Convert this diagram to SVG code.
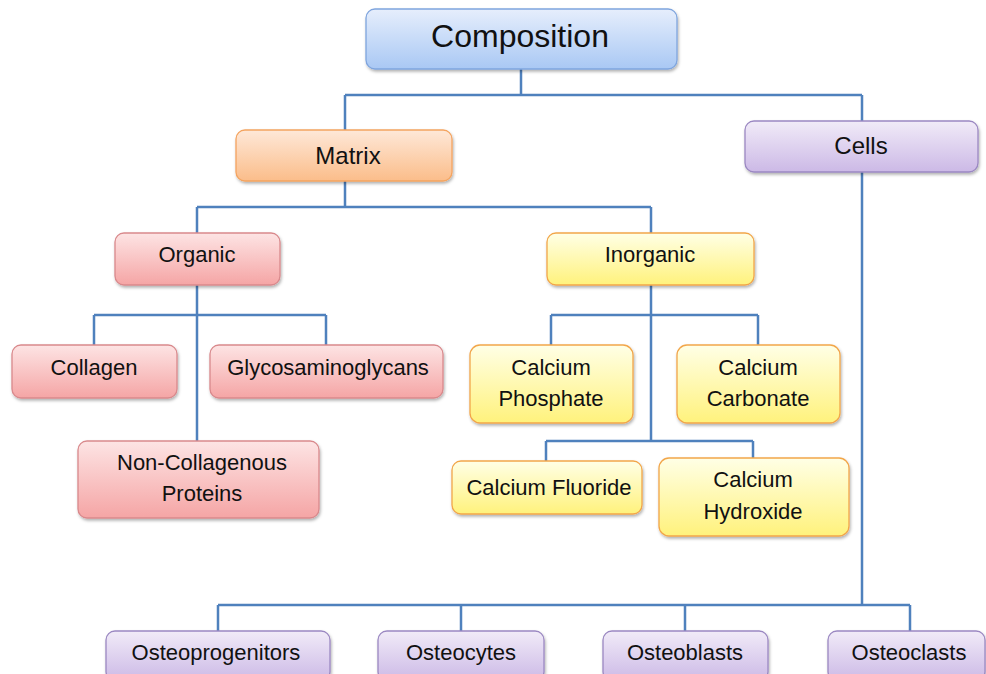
<svg xmlns="http://www.w3.org/2000/svg" width="986" height="674" viewBox="0 0 986 674">
<defs>
<linearGradient id="gBlue" x1="0" y1="0" x2="0" y2="1"><stop offset="0" stop-color="#e6eefc"/><stop offset="1" stop-color="#a9c8f4"/></linearGradient>
<linearGradient id="gOrange" x1="0" y1="0" x2="0" y2="1"><stop offset="0" stop-color="#fee8d8"/><stop offset="1" stop-color="#fbbd8a"/></linearGradient>
<linearGradient id="gRed" x1="0" y1="0" x2="0" y2="1"><stop offset="0" stop-color="#fde4e4"/><stop offset="1" stop-color="#f5a5a5"/></linearGradient>
<linearGradient id="gYellow" x1="0" y1="0" x2="0" y2="1"><stop offset="0" stop-color="#ffffe6"/><stop offset="1" stop-color="#fff27c"/></linearGradient>
<linearGradient id="gPurple" x1="0" y1="0" x2="0" y2="1"><stop offset="0" stop-color="#f1ebf8"/><stop offset="1" stop-color="#ccb9e6"/></linearGradient>
<filter id="sh" x="-10%" y="-10%" width="120%" height="130%"><feDropShadow dx="1" dy="2" stdDeviation="1.5" flood-color="#000" flood-opacity="0.3"/></filter>
</defs>
<style>
text{font-family:"Liberation Sans",Arial,sans-serif;fill:#111;text-anchor:middle;font-size:22px}
.b{stroke-width:1.3;filter:url(#sh)}
.blue{fill:url(#gBlue);stroke:#7fa5de}
.orange{fill:url(#gOrange);stroke:#f4a460}
.red{fill:url(#gRed);stroke:#d9898c}
.yellow{fill:url(#gYellow);stroke:#f2a64a}
.purple{fill:url(#gPurple);stroke:#9b88c2}
.l1{font-size:32px}
.l2{font-size:24px}
.conn path{fill:none;stroke:#4f81bd;stroke-width:2.5}
</style>
<g id="connectors" class="conn">
<path d="M521 69V95M345 95H862M345 95V131M862 95V121"/>
<path d="M345 181V207M197 207H651M197 207V233M651 207V233"/>
<path d="M197 285V441M94 315H326M94 315V345M326 315V345"/>
<path d="M651 285V441M551 315H758M551 315V345M758 315V345M546 441H753M546 441V461M753 441V458"/>
<path d="M862 172V605M218 605H910M218 605V631M461 605V631M685 605V631M910 605V631"/>
</g>
<g id="composition"><rect class="b blue" x="366" y="9" width="311" height="60" rx="9"/><text class="l1" x="520" y="47">Composition</text></g>
<g id="matrix"><rect class="b orange" x="236" y="130" width="216" height="51" rx="9"/><text class="l2" x="348" y="164">Matrix</text></g>
<g id="cells"><rect class="b purple" x="745" y="121" width="233" height="51" rx="9"/><text class="l2" x="861" y="154">Cells</text></g>
<g id="organic"><rect class="b red" x="115" y="233" width="165" height="52" rx="9"/><text x="197" y="262">Organic</text></g>
<g id="inorganic"><rect class="b yellow" x="547" y="233" width="207" height="52" rx="9"/><text x="650" y="262">Inorganic</text></g>
<g id="collagen"><rect class="b red" x="12" y="345" width="165" height="53" rx="9"/><text x="94" y="375">Collagen</text></g>
<g id="glyco"><rect class="b red" x="210" y="345" width="233" height="53" rx="9"/><text x="328" y="375">Glycosaminoglycans</text></g>
<g id="noncollagenous"><rect class="b red" x="78" y="441" width="241" height="77" rx="9"/><text x="202" y="470">Non-Collagenous</text><text x="202" y="501">Proteins</text></g>
<g id="phosphate"><rect class="b yellow" x="470" y="345" width="163" height="78" rx="10"/><text x="551" y="375">Calcium</text><text x="551" y="406">Phosphate</text></g>
<g id="carbonate"><rect class="b yellow" x="677" y="345" width="163" height="78" rx="10"/><text x="758" y="375">Calcium</text><text x="758" y="406">Carbonate</text></g>
<g id="fluoride"><rect class="b yellow" x="452" y="461" width="190" height="53" rx="9"/><text x="549" y="495">Calcium Fluoride</text></g>
<g id="hydroxide"><rect class="b yellow" x="659" y="458" width="190" height="78" rx="10"/><text x="753" y="487">Calcium</text><text x="753" y="519">Hydroxide</text></g>
<g id="osteoprogenitors"><rect class="b purple" x="106" y="631" width="224" height="50" rx="9"/><text x="216" y="660">Osteoprogenitors</text></g>
<g id="osteocytes"><rect class="b purple" x="378" y="631" width="166" height="50" rx="9"/><text x="461" y="660">Osteocytes</text></g>
<g id="osteoblasts"><rect class="b purple" x="603" y="631" width="165" height="50" rx="9"/><text x="685" y="660">Osteoblasts</text></g>
<g id="osteoclasts"><rect class="b purple" x="828" y="631" width="157" height="50" rx="9"/><text x="909" y="660">Osteoclasts</text></g>
</svg>
